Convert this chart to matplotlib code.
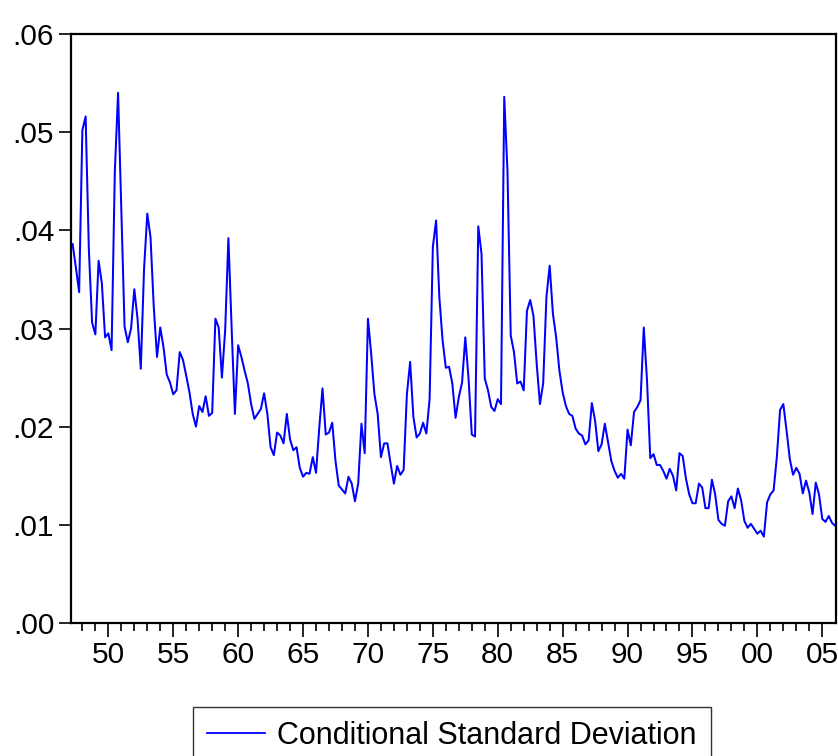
import matplotlib
matplotlib.use("Agg")
import matplotlib.pyplot as plt
import numpy as np
from matplotlib.ticker import FixedLocator, FuncFormatter

plt.rcParams['font.family'] = ['Liberation Sans', 'DejaVu Sans']

start_period = 1947.25  # first quarterly observation
cond_sd = [
    0.0386, 0.0362, 0.0337, 0.0502, 0.0516, 0.0380, 0.0306, 0.0294, 0.0369, 0.0346,
    0.0291, 0.0295, 0.0278, 0.0460, 0.0540, 0.0420, 0.0302, 0.0286, 0.0300, 0.0340,
    0.0310, 0.0259, 0.0360, 0.0417, 0.0393, 0.0322, 0.0271, 0.0301, 0.0281, 0.0253,
    0.0245,
    0.0233, 0.0237, 0.0276, 0.0268, 0.0252, 0.0235, 0.0213, 0.0200, 0.0221, 0.0215,
    0.0231, 0.0211, 0.0214, 0.0310, 0.0301, 0.0250, 0.0298, 0.0392, 0.0300, 0.0213,
    0.0283, 0.0271, 0.0257, 0.0244, 0.0223, 0.0208, 0.0213, 0.0218, 0.0234, 0.0213,
    0.0179, 0.0171,
    0.0194, 0.0191, 0.0183, 0.0213, 0.0187, 0.0176, 0.0179, 0.0158, 0.0149, 0.0153,
    0.0152, 0.0169, 0.0153, 0.0199, 0.0239, 0.0192, 0.0194, 0.0204, 0.0165, 0.0140,
    0.0136, 0.0132, 0.0149, 0.0142, 0.0124, 0.0142, 0.0203, 0.0173, 0.0310, 0.0274,
    0.0233, 0.0213,
    0.0169, 0.0183, 0.0183, 0.0162, 0.0142, 0.0160, 0.0151, 0.0156, 0.0233, 0.0266,
    0.0210, 0.0189, 0.0193, 0.0204, 0.0193, 0.0228, 0.0383, 0.0410, 0.0332, 0.0288,
    0.0260, 0.0261, 0.0244, 0.0209, 0.0230, 0.0245, 0.0291, 0.0249, 0.0192, 0.0190,
    0.0404, 0.0376, 0.0249,
    0.0237, 0.0220, 0.0216, 0.0228, 0.0223, 0.0536, 0.0460, 0.0293, 0.0276, 0.0244,
    0.0246, 0.0237, 0.0318, 0.0329, 0.0313, 0.0264, 0.0223, 0.0244, 0.0332, 0.0364,
    0.0315, 0.0291, 0.0257, 0.0235, 0.0221, 0.0213, 0.0211, 0.0198, 0.0193, 0.0191,
    0.0182, 0.0186,
    0.0224, 0.0206, 0.0175, 0.0182, 0.0203, 0.0184, 0.0165, 0.0155, 0.0148, 0.0152,
    0.0147, 0.0197, 0.0181, 0.0215, 0.0220, 0.0227, 0.0301, 0.0247, 0.0168, 0.0172,
    0.0161, 0.0161, 0.0155, 0.0147, 0.0157, 0.0150, 0.0135, 0.0173, 0.0170, 0.0147,
    0.0131, 0.0122, 0.0122,
    0.0142, 0.0138, 0.0117, 0.0117, 0.0146, 0.0131, 0.0105, 0.0101, 0.0099, 0.0124,
    0.0129, 0.0117, 0.0137, 0.0125, 0.0104, 0.0097, 0.0101, 0.0096, 0.0091, 0.0094,
    0.0088, 0.0123, 0.0131, 0.0135, 0.0169, 0.0217, 0.0223, 0.0196, 0.0167, 0.0151,
    0.0158, 0.0152, 0.0132, 0.0145, 0.0133, 0.0111, 0.0143, 0.0131, 0.0106, 0.0103,
    0.0109, 0.0102, 0.0099,
]
major_years = [1950, 1955, 1960, 1965, 1970, 1975, 1980, 1985, 1990, 1995, 2000, 2005]
major_labels = ["50", "55", "60", "65", "70", "75", "80", "85", "90", "95", "00", "05"]
minor_years = list(range(1948, 2006))
y_ticks = [0.00, 0.01, 0.02, 0.03, 0.04, 0.05, 0.06]
series_name = "Conditional Standard Deviation"

t = start_period + np.arange(len(cond_sd)) / 4.0

fig = plt.figure(figsize=(8.38, 7.56), dpi=100)
ax = fig.add_axes([70.9/838, 1 - 623/756, (835.5 - 70.9)/838, (623 - 34)/756])

ax.plot(t, cond_sd, color='#0000FF', linewidth=1.45, label=series_name)

ax.set_xlim(1947.116, 2006.02)
ax.set_ylim(0.0, 0.06)

label_map = dict(zip(major_years, major_labels))
ax.xaxis.set_major_locator(FixedLocator(major_years))
ax.xaxis.set_major_formatter(FuncFormatter(lambda v, p: label_map.get(int(round(v)), "")))
ax.xaxis.set_minor_locator(FixedLocator([y for y in minor_years if y not in major_years]))
ax.yaxis.set_major_locator(FixedLocator(y_ticks))
ax.yaxis.set_major_formatter(FuncFormatter(lambda v, p: ("%.2f" % v)[1:]))

ax.tick_params(axis='x', which='major', direction='out', length=10, width=1.2, labelsize=21.5, pad=3)
ax.tick_params(axis='x', which='minor', direction='out', length=5.5, width=1.2)
ax.tick_params(axis='y', which='major', direction='out', length=9, width=1.2, labelsize=21.5, pad=3)

for s in ax.spines.values():
    s.set_linewidth(1.6)
    s.set_color('black')

leg = fig.legend(loc='upper center', bbox_to_anchor=(452/838, 1 - 707/756),
                 fontsize=22, frameon=True, fancybox=False, edgecolor='black',
                 handlelength=1.9, handletextpad=0.4, borderpad=0.45, borderaxespad=0)
leg.get_frame().set_linewidth(1.0)
for line in leg.get_lines():
    line.set_linewidth(1.3)

fig.savefig("out.png", dpi=100)
